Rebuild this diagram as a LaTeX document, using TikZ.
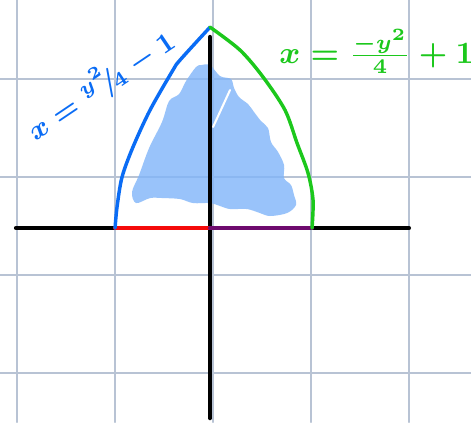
\documentclass[tikz,border=0pt]{standalone}
\usepackage{amsmath}
\usepackage{xcolor}
\definecolor{colGrid}{HTML}{B8C3D4}
\definecolor{colBlue}{HTML}{0A6CF5}
\definecolor{colGreen}{HTML}{1CC81C}
\definecolor{colRed}{HTML}{F50A0A}
\definecolor{colPurple}{HTML}{6E0A6E}
\definecolor{colFill}{HTML}{80B5F9}
\usepackage{tikz}
\usetikzlibrary{calc}

\begin{document}
\begin{tikzpicture}[line cap=round, line join=round]
        % Sfondo
        \useasboundingbox (-2.143,-1.980) rectangle (2.663,2.327);
        \fill[white] (-2.143,-1.980) rectangle (2.663,2.327);
        % Griglia
        \foreach \gx in {-1.97,-0.97,0.03,1.03,2.03}{
            \draw[colGrid, line width=0.5pt] (\gx,-1.980) -- (\gx,2.327);}
        \foreach \gy in {1.52,0.52,-0.48,-1.48}{
            \draw[colGrid, line width=0.5pt] (-2.143,\gy) -- (2.663,\gy);}
        % Regione
        \fill[colFill, opacity=0.8] plot[smooth cycle, tension=0.55] coordinates {
            (-0.090,1.663) (0,1.663) (0.102,1.551) (0.214,1.520) (0.245,1.429)
            (0.296,1.337) (0.388,1.265) (0.449,1.184) (0.520,1.092) (0.592,1.020)
            (0.622,0.878) (0.694,0.776) (0.755,0.643) (0.755,0.510) (0.826,0.439)
            (0.857,0.337) (0.877,0.235) (0.786,0.153) (0.612,0.123) (0.510,0.153)
            (0.378,0.194) (0.204,0.194) (0.102,0.225) (0,0.255) (-0.173,0.255)
            (-0.306,0.296) (-0.480,0.306) (-0.612,0.306) (-0.755,0.255) (-0.796,0.367)
            (-0.724,0.541) (-0.622,0.816) (-0.490,1.082) (-0.418,1.296) (-0.316,1.367)
            (-0.245,1.500) (-0.143,1.643)};
        \draw[white, line width=0.6pt] (0.204,1.408) -- (0.031,1.031);
        % Assi
        \draw[black, line width=1.2pt] (-1.98,0) -- (2.03,0);
        \draw[black, line width=1.2pt] (0,1.95) -- (0,-1.94);
        \draw[colRed, line width=1.2pt] (-0.969,0) -- (0,0);
        \draw[colPurple, line width=1.2pt] (0,0) -- (1.041,0);
        % Curve
        \draw[colBlue, line width=1pt] plot[smooth, tension=0.5] coordinates {
            (-0.969,0) (-0.949,0.214) (-0.898,0.520) (-0.786,0.827)
            (-0.612,1.204) (-0.378,1.612) (-0.306,1.714) (0,2.05)};
        \draw[colGreen, line width=1pt] plot[smooth, tension=0.5] coordinates {
            (0,2.05) (0.306,1.816) (0.541,1.541) (0.765,1.204)
            (0.888,0.867) (1.0,0.561) (1.051,0.286) (1.041,0)};
        % Etichette
        \node[colBlue, font=\footnotesize\boldmath, rotate=34] (lblLeft) at (-1.12,1.47)
            {$x={}^{y^2}\!\!/\!{}_{4}-1$};
        \node[colGreen, font=\small\boldmath] (lblRight) at (1.70,1.80)
            {$x=\frac{-y^2}{4}+1$};
    \end{tikzpicture}
\end{document}
